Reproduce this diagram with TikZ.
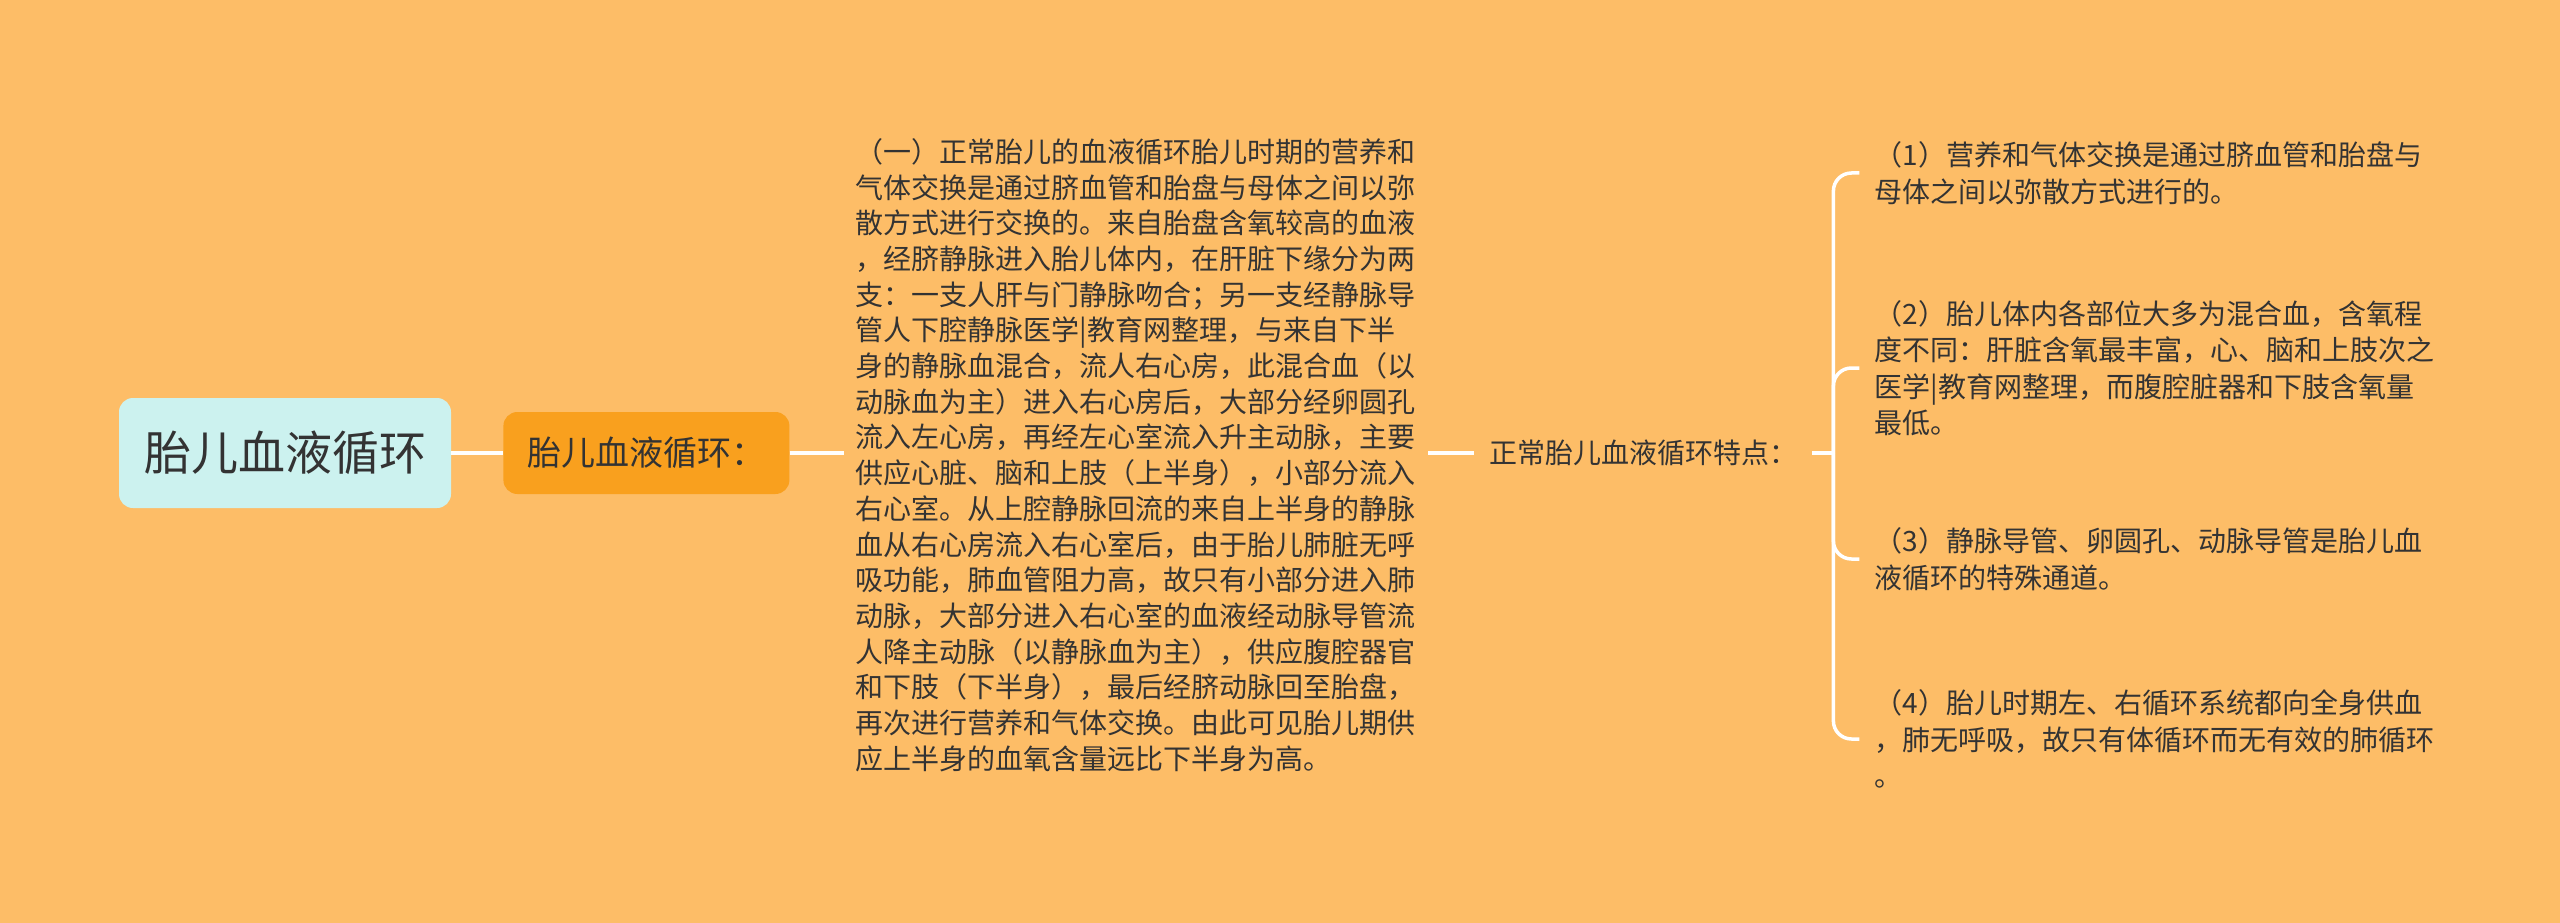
\documentclass[tikz,border=0pt]{standalone}
\usepackage{fontspec}
\usepackage{tikz}
\usetikzlibrary{positioning}
\newfontfamily\cjk{Noto Sans CJK SC}
\definecolor{bgpeach}{HTML}{FDBD67}
\definecolor{rootcyan}{HTML}{CCF2EF}
\definecolor{subamber}{HTML}{F9A01E}
\definecolor{inkgrey}{HTML}{333333}
\tikzset{
  rootbox/.style = {fill=rootcyan, rounded corners=14pt, inner xsep=25pt, minimum height=110pt,
    text=inkgrey, font=\cjk\fontsize{47pt}{56pt}\selectfont},
  subbox/.style = {fill=subamber, rounded corners=14pt, inner xsep=24pt, minimum height=82pt,
    text=inkgrey, font=\cjk\fontsize{34pt}{40pt}\selectfont},
  para/.style = {align=left, inner xsep=12pt, inner ysep=4pt, text=inkgrey,
    font=\cjk\fontsize{28pt}{35.7pt}\selectfont},
  point/.style = {para, inner xsep=15pt, font=\cjk\fontsize{28pt}{36.5pt}\selectfont},
  branch/.style = {draw=white, line width=3.5pt},
}

\begin{document}
\begin{tikzpicture}
    \fill[bgpeach] (0,0) rectangle (2560pt,-923pt);
    \useasboundingbox (0,0) rectangle (2560pt,-923pt);

    \node[rootbox] (root) at (285pt,-453pt) {胎儿血液循环};
    \node[subbox, right = 52pt of root] (sub) {胎儿血液循环：};
    \node[para, right = 54pt of sub, yshift=-2pt] (story) {%
      （一）正常胎儿的血液循环胎儿时期的营养和\\
      气体交换是通过脐血管和胎盘与母体之间以弥\\
      散方式进行交换的。来自胎盘含氧较高的血液\\
      ，经脐静脉进入胎儿体内，在肝脏下缘分为两\\
      支：一支人肝与门静脉吻合；另一支经静脉导\\
      管人下腔静脉医学|教育网整理，与来自下半\\
      身的静脉血混合，流人右心房，此混合血（以\\
      动脉血为主）进入右心房后，大部分经卵圆孔\\
      流入左心房，再经左心室流入升主动脉，主要\\
      供应心脏、脑和上肢（上半身），小部分流入\\
      右心室。从上腔静脉回流的来自上半身的静脉\\
      血从右心房流入右心室后，由于胎儿肺脏无呼\\
      吸功能，肺血管阻力高，故只有小部分进入肺\\
      动脉，大部分进入右心室的血液经动脉导管流\\
      人降主动脉（以静脉血为主），供应腹腔器官\\
      和下肢（下半身），最后经脐动脉回至胎盘，\\
      再次进行营养和气体交换。由此可见胎儿期供\\
      应上半身的血氧含量远比下半身为高。};
    \node[para, inner xsep=15pt, right = 46pt of story.east |- sub.east, anchor=west] (feat) {正常胎儿血液循环特点：};
    \coordinate[right = 21pt of feat] (fork);

    \node[point, right = 26pt of fork, yshift=280pt] (p1) {%
      （1）营养和气体交换是通过脐血管和胎盘与\\
      母体之间以弥散方式进行的。};
    \node[point, right = 26pt of fork, yshift=85pt] (p2) {%
      （2）胎儿体内各部位大多为混合血，含氧程\\
      度不同：肝脏含氧最丰富，心、脑和上肢次之\\
      医学|教育网整理，而腹腔脏器和下肢含氧量\\
      最低。};
    \node[point, right = 26pt of fork, yshift=-106pt] (p3) {%
      （3）静脉导管、卵圆孔、动脉导管是胎儿血\\
      液循环的特殊通道。};
    \node[point, right = 26pt of fork, yshift=-286pt] (p4) {%
      （4）胎儿时期左、右循环系统都向全身供血\\
      ，肺无呼吸，故只有体循环而无有效的肺循环\\
      。};

    \draw[branch] (root) -- (sub);
    \draw[branch] (sub.east) -- (sub.east -| story.west);
    \draw[branch] (feat.west -| story.east) -- (feat);
    \draw[branch] (feat) -- (fork);
    \foreach \p in {p1,p2,p3,p4}
      \draw[branch, rounded corners=18pt] (fork) |- (\p.west);
\end{tikzpicture}
\end{document}
